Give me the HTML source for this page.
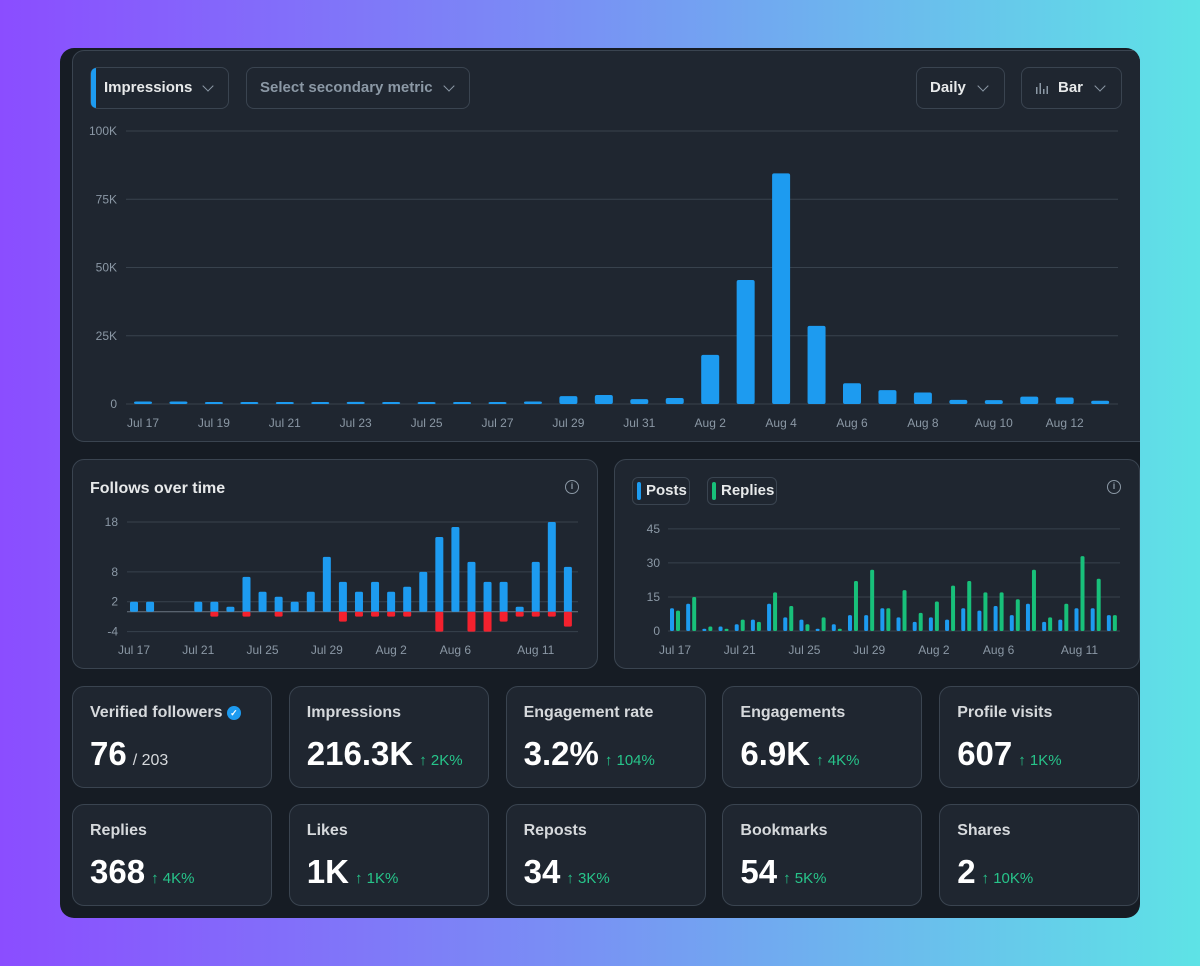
<!DOCTYPE html>
<html><head><meta charset="utf-8">
<style>
*{box-sizing:border-box;margin:0;padding:0}
body{width:1200px;height:966px;overflow:hidden;background:linear-gradient(90deg,#8b4dff 0%,#7a8cf5 45%,#5ee3e6 100%);font-family:"Liberation Sans",sans-serif;position:relative}
#panel{position:absolute;left:60px;top:48px;width:1080px;height:870px;background:#161c24;border-radius:14px;overflow:hidden}
.card{position:absolute;background:#1f2630;border:1px solid #3a4450;border-radius:12px}
.dd{position:absolute;top:16px;height:42px;border:1px solid #3a4450;border-radius:8px;color:#e7e9ea;font-weight:bold;font-size:15px;line-height:40px;padding-left:13px}
.chev{position:absolute;top:14px;width:8px;height:8px;border-right:1.5px solid #8b98a5;border-bottom:1.5px solid #8b98a5;transform:rotate(45deg)}
svg text{font-family:"Liberation Sans",sans-serif;font-size:12px;fill:#8b98a5}
.ct{position:absolute;left:17px;top:20px;color:#e7e9ea;font-size:16px;font-weight:bold}
.info{position:absolute;width:14px;height:14px;border:1.5px solid #8b98a5;border-radius:50%;color:#8b98a5;font-size:9px;text-align:center;line-height:11px;font-weight:bold}
.stat .lbl{position:absolute;left:17px;top:17px;color:#d6d9dc;font-size:16px;font-weight:bold}
.stat .val{position:absolute;left:17px;top:48px;color:#fff;font-size:33px;font-weight:bold;white-space:nowrap}
.stat .chg{color:#27c48a;font-size:15px;font-weight:normal;margin-left:6px}
.stat .sub{color:#d6d9dc;font-size:16px;font-weight:normal;margin-left:6px}
.chip{position:absolute;top:17px;height:28px;border:1px solid #3a4450;border-radius:6px;color:#e7e9ea;font-size:15px;font-weight:bold;line-height:26px;padding-left:13px}
.chip i{position:absolute;left:4px;top:4px;width:4px;height:18px;border-radius:2px}
</style></head><body>
<div id="panel">
 <div class="card" style="left:12px;top:2px;width:1080px;height:392px">
  <div class="dd" style="left:17px;width:139px"><span style="position:absolute;left:0;top:0;width:5px;height:40px;background:#1d9bf0;border-radius:8px 0 0 8px"></span>Impressions<span class="chev" style="left:113px"></span></div>
  <div class="dd" style="left:173px;width:224px;color:#8b98a5">Select secondary metric<span class="chev" style="left:198px"></span></div>
  <div class="dd" style="left:843px;width:89px">Daily<span class="chev" style="left:62px"></span></div>
  <div class="dd" style="left:948px;width:101px;padding-left:36px"><svg style="position:absolute;left:14px;top:14px" width="12" height="12"><rect x="0" y="5" width="1.5" height="7" fill="#8b98a5"/><rect x="3.5" y="1" width="1.5" height="11" fill="#8b98a5"/><rect x="7" y="7" width="1.5" height="5" fill="#8b98a5"/><rect x="10.5" y="4" width="1.5" height="8" fill="#8b98a5"/></svg>Bar<span class="chev" style="left:74px"></span></div>
 </div>
 <div class="card" style="left:12px;top:411px;width:526px;height:210px">
  <div class="ct">Follows over time</div>
  <div class="info" style="left:492px;top:20px">i</div>
 </div>
 <div class="card" style="left:554px;top:411px;width:526px;height:210px">
  <div class="chip" style="left:17px;width:58px"><i style="background:#1d9bf0"></i>Posts</div>
  <div class="chip" style="left:92px;width:70px"><i style="background:#18c07a"></i>Replies</div>
  <div class="info" style="left:492px;top:20px">i</div>
 </div>
 <svg id="chart" style="position:absolute;left:-60px;top:-48px" width="1200" height="966"></svg>
 <div id="stats"></div>
</div>
<script>
// Main impressions chart data (K)
const mainDays=["Jul 17","Jul 18","Jul 19","Jul 20","Jul 21","Jul 22","Jul 23","Jul 24","Jul 25","Jul 26","Jul 27","Jul 28","Jul 29","Jul 30","Jul 31","Aug 1","Aug 2","Aug 3","Aug 4","Aug 5","Aug 6","Aug 7","Aug 8","Aug 9","Aug 10","Aug 11","Aug 12","Aug 13"];
const impressions=[0.9,0.9,0.4,0.3,0.4,0.4,0.8,0.7,0.5,0.4,0.3,0.9,2.9,3.3,1.8,2.2,18,45.4,84.5,28.6,7.6,5.1,4.2,1.5,1.4,2.7,2.4,1.2];
const mainTicks=[0,25,50,75,100];
const mainTickLabels=["0","25K","50K","75K","100K"];
// Follows
const follows=[2,2,0,0,2,2,1,7,4,3,2,4,11,6,4,6,4,5,8,15,17,10,6,6,1,10,18,9];
const unfollows=[0,0,0,0,0,-1,0,-1,0,-1,0,0,0,-2,-1,-1,-1,-1,0,-4,0,-4,-4,-2,-1,-1,-1,-3];
const followTicks=[-4,2,8,18];
// Posts / replies
const posts=[10,12,1,2,3,5,12,6,5,1,3,7,7,10,6,4,6,5,10,9,11,7,12,4,5,10,10,7];
const replies=[9,15,2,1,5,4,17,11,3,6,1,22,27,10,18,8,13,20,22,17,17,14,27,6,12,33,23,7];
const prTicks=[0,15,30,45];
const smallLabelIdx=[0,4,8,12,16,20,25];
const smallLabels=["Jul 17","Jul 21","Jul 25","Jul 29","Aug 2","Aug 6","Aug 11"];

const svg=document.getElementById('chart');const NS='http://www.w3.org/2000/svg';
function mk(t,a,p){const e=document.createElementNS(NS,t);for(const k in a)e.setAttribute(k,a[k]);(p||svg).appendChild(e);return e;}
function txt(x,y,s,anchor){const t=mk('text',{x:x,y:y,'text-anchor':anchor||'middle'});t.textContent=s;return t;}

// main chart
const mx=i=>143+i*35.45, my=v=>404-v*2.73;
mainTicks.forEach((v,i)=>{const l=mk('line',{x1:126,x2:1118,y1:my(v),y2:my(v),stroke:'#38424d','stroke-width':1});

const t=txt(117,my(v)+4,mainTickLabels[i],'end');});
impressions.forEach((v,i)=>{const h=Math.max(2,404-my(v));const r=mk('rect',{x:mx(i)-9,y:404-h,width:18,height:h,rx:2,fill:'#1d9bf0'});

if(i%2==0){const t=txt(mx(i),427,mainDays[i]);}});

// follows
const fx=i=>134+i*16.07, fy=v=>611.7-v*4.98;
followTicks.forEach(v=>{const l=mk('line',{x1:127,x2:578,y1:fy(v),y2:fy(v),stroke:'#38424d'});

const t=txt(118,fy(v)+4,String(v),'end');});
mk('line',{x1:127,x2:578,y1:fy(0),y2:fy(0),stroke:'#6b7682'});
follows.forEach((v,i)=>{if(v>0){const r=mk('rect',{x:fx(i)-4,y:fy(v),width:8,height:fy(0)-fy(v),rx:1.5,fill:'#1d9bf0'});
}});
unfollows.forEach((v,i)=>{if(v<0){const r=mk('rect',{x:fx(i)-4,y:fy(0),width:8,height:fy(v)-fy(0),rx:1.5,fill:'#f4212e'});
}});
smallLabelIdx.forEach((d,k)=>{const t=txt(fx(d),654,smallLabels[k]);});

// posts/replies
const px=i=>672+i*16.18, py=v=>631-v*2.27;
prTicks.forEach(v=>{const l=mk('line',{x1:668,x2:1120,y1:py(v),y2:py(v),stroke:'#38424d'});

const t=txt(660,py(v)+4,String(v),'end');});
posts.forEach((v,i)=>{const r=mk('rect',{x:px(i)-2,y:py(v),width:4,height:Math.max(1,631-py(v)),rx:1.5,fill:'#1d9bf0'});
});
replies.forEach((v,i)=>{const r=mk('rect',{x:px(i)+4,y:py(v),width:4,height:Math.max(1,631-py(v)),rx:1.5,fill:'#18c07a'});
});
smallLabelIdx.forEach((d,k)=>{const t=txt(px(d)+3,654,smallLabels[k]);});

// stats
const statLabels=["Verified followers","Impressions","Engagement rate","Engagements","Profile visits","Replies","Likes","Reposts","Bookmarks","Shares"];
const statValues=["76","216.3K","3.2%","6.9K","607","368","1K","34","54","2"];
const statChanges=["","2K%","104%","4K%","1K%","4K%","1K%","3K%","5K%","10K%"];
const st=document.getElementById('stats');
statLabels.forEach((l,i)=>{const d=document.createElement('div');d.className='card stat';


const col=i%5,row=Math.floor(i/5);
d.style.left=(12+col*216.8)+'px';d.style.top=(638+row*118)+'px';d.style.width='200px';d.style.height='102px';
let extra=i==0?'<span class="sub">/ 203</span>':'<span class="chg">↑ '+statChanges[i]+'</span>';
let badge=i==0?' <span style="display:inline-block;width:14px;height:14px;border-radius:50%;background:#1d9bf0;color:#fff;font-size:9px;line-height:14px;text-align:center;vertical-align:1px">✓</span>':'';
d.innerHTML='<div class="lbl">'+l+badge+'</div><div class="val">'+statValues[i]+extra+'</div>';
st.appendChild(d);});
</script>
</body></html>
